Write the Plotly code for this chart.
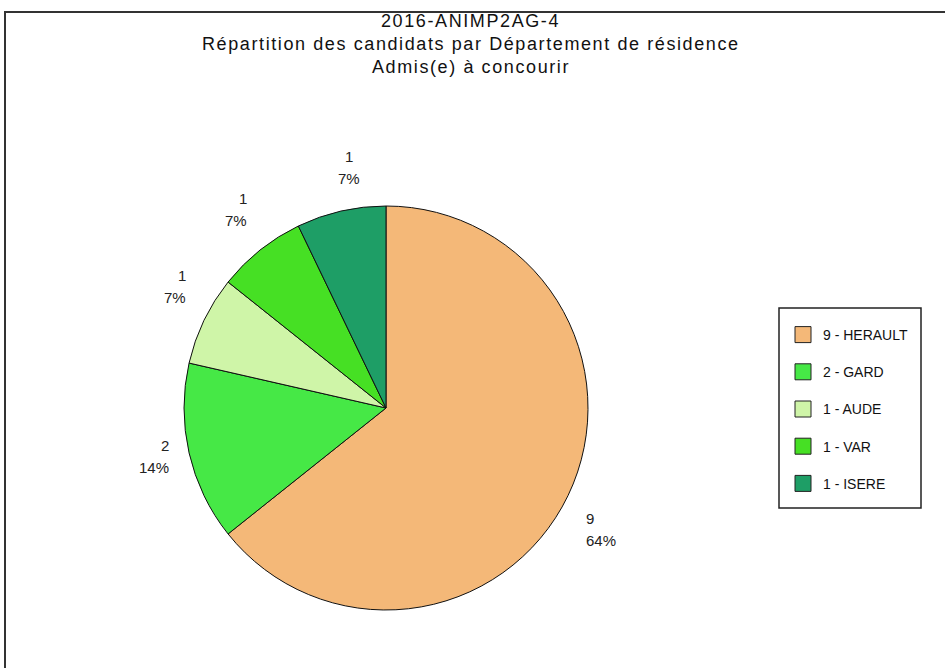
import numpy as np
import plotly.graph_objects as go

# ---- data ----
departements = ["HERAULT", "GARD", "AUDE", "VAR", "ISERE"]
effectifs = [9, 2, 1, 1, 1]
couleurs = ["#F4B878", "#46E846", "#CFF5A8", "#46E024", "#1E9E66"]
titre = ["2016-ANIMP2AG-4",
         "Répartition des candidats par Département de résidence",
         "Admis(e) à concourir"]

W, H = 945, 668
FONT = "Liberation Sans, Arial, sans-serif"

# pie geometry (pixels)
cx, cy, R = 386, 408, 202

vals = np.array(effectifs, dtype=float)
total = vals.sum()
pcts = np.round(100 * vals / total).astype(int)
legend_labels = [f"{v} - {d}" for v, d in zip(effectifs, departements)]


def px2paper(x, y):
    return x / W, 1 - y / H


fig = go.Figure()
fig.add_trace(go.Pie(
    labels=legend_labels,
    values=effectifs,
    sort=False,
    direction="clockwise",
    rotation=0,
    marker=dict(colors=couleurs, line=dict(color="#111111", width=1)),
    textinfo="none",
    textposition="none",
    hoverinfo="label+value+percent",
    showlegend=False,
    domain=dict(x=[(cx - R) / W, (cx + R) / W],
                y=[1 - (cy + R) / H, 1 - (cy - R) / H]),
))

# legend entries (square swatches)
for i, (lab, col) in enumerate(zip(legend_labels, couleurs)):
    fig.add_trace(go.Scatter(
        x=[None], y=[None], mode="markers", name=lab,
        legendgroup=f"g{i}",
        marker=dict(symbol="square", size=16, color=col,
                    line=dict(color="#222222", width=1)),
    ))

annotations = []

# title lines
for k, line in enumerate(titre):
    ax, ay = px2paper(W / 2 - 2, 21 + 23 * k)
    annotations.append(dict(
        x=ax, y=ay, xref="paper", yref="paper",
        text=f"<span style='letter-spacing:1.6px'>{line}</span>",
        showarrow=False, xanchor="center", yanchor="middle",
        font=dict(family=FONT, size=18, color="#111111")))

# slice labels placed outside the pie
cum = np.cumsum(vals)
mid = (cum - vals / 2) / total
theta = 2 * np.pi * mid
d = 1.09 * R
k_off = 26
line_gap = 22
for v, p, t in zip(effectifs, pcts, theta):
    s, c = np.sin(t), np.cos(t)
    xa = "left" if s > 0.3 else ("right" if s < -0.3 else "center")
    sgn = np.sign(c) if abs(c) > 0.3 else 0.0
    px = cx + d * s * (1.0 if xa != "center" else 0.75)
    yc = cy - d * c - sgn * k_off
    for j, txt in enumerate([f"{v}", f"{p}%"]):
        ax, ay = px2paper(px, yc + (j - 0.5) * line_gap)
        annotations.append(dict(
            x=ax, y=ay, xref="paper", yref="paper",
            text=txt, showarrow=False,
            xanchor=xa, yanchor="middle",
            font=dict(family=FONT, size=15, color="#222222"),
        ))

fig.update_layout(
    width=W, height=H, autosize=False,
    margin=dict(l=0, r=0, t=0, b=0),
    paper_bgcolor="white", plot_bgcolor="white",
    xaxis=dict(visible=False), yaxis=dict(visible=False),
    legend=dict(x=783 / W, y=1 - 319 / H, xanchor="left", yanchor="top",
                bgcolor="rgba(0,0,0,0)", borderwidth=0,
                tracegroupgap=16,
                font=dict(family=FONT, size=14, color="#111111")),
    annotations=annotations,
    shapes=[
        dict(type="rect", xref="paper", yref="paper",
             x0=5 / W, x1=1.05, y0=-0.05, y1=1 - 12 / H,
             line=dict(color="#333333", width=2), fillcolor="rgba(0,0,0,0)"),
        dict(type="rect", xref="paper", yref="paper",
             x0=779 / W, x1=921 / W, y0=1 - 508 / H, y1=1 - 308 / H,
             line=dict(color="#222222", width=1.5), fillcolor="rgba(0,0,0,0)"),
    ],
)

fig.write_html("out.html", config={"displayModeBar": False},
               post_script="document.body.style.margin='0';")
